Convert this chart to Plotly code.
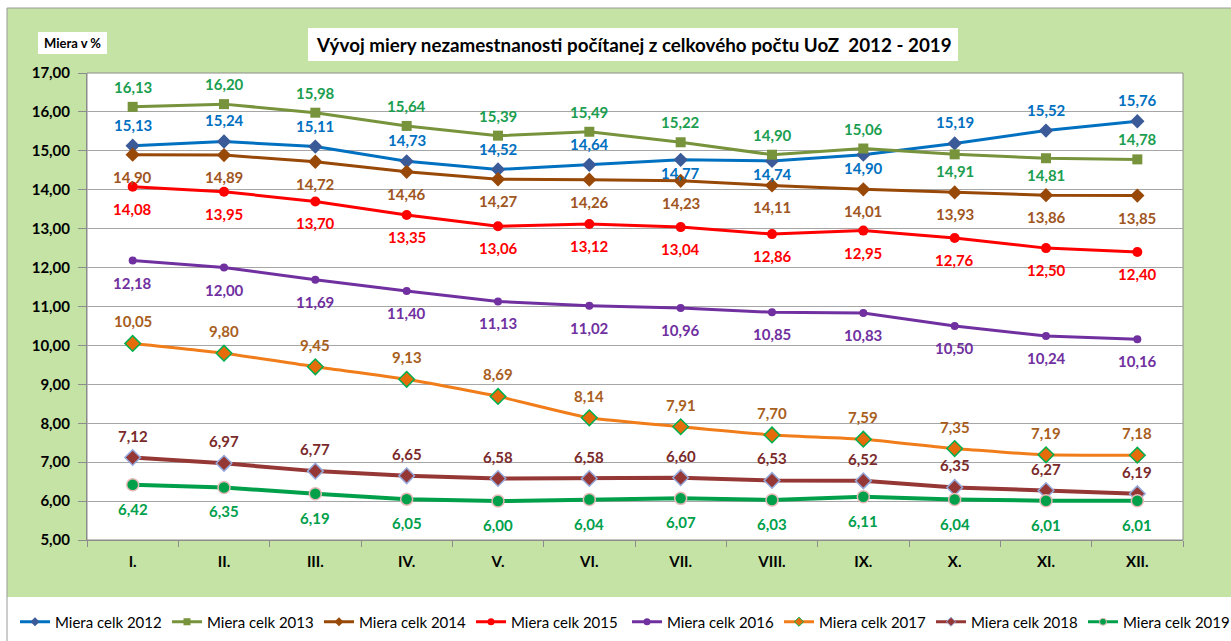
import plotly.graph_objects as go

months = ["I.", "II.", "III.", "IV.", "V.", "VI.", "VII.", "VIII.", "IX.", "X.", "XI.", "XII."]

miera_2012 = [15.13, 15.24, 15.11, 14.73, 14.52, 14.64, 14.77, 14.74, 14.90, 15.19, 15.52, 15.76]
miera_2013 = [16.13, 16.20, 15.98, 15.64, 15.39, 15.49, 15.22, 14.90, 15.06, 14.91, 14.81, 14.78]
miera_2014 = [14.90, 14.89, 14.72, 14.46, 14.27, 14.26, 14.23, 14.11, 14.01, 13.93, 13.86, 13.85]
miera_2015 = [14.08, 13.95, 13.70, 13.35, 13.06, 13.12, 13.04, 12.86, 12.95, 12.76, 12.50, 12.40]
miera_2016 = [12.18, 12.00, 11.69, 11.40, 11.13, 11.02, 10.96, 10.85, 10.83, 10.50, 10.24, 10.16]
miera_2017 = [10.05, 9.80, 9.45, 9.13, 8.69, 8.14, 7.91, 7.70, 7.59, 7.35, 7.19, 7.18]
miera_2018 = [7.12, 6.97, 6.77, 6.65, 6.58, 6.58, 6.60, 6.53, 6.52, 6.35, 6.27, 6.19]
miera_2019 = [6.42, 6.35, 6.19, 6.05, 6.00, 6.04, 6.07, 6.03, 6.11, 6.04, 6.01, 6.01]

# label placement: "t" above the point, "b" below
pos_2012 = ["t", "t", "t", "t", "t", "t", "b", "b", "b", "t", "t", "t"]
pos_2013 = ["t", "t", "t", "t", "t", "t", "t", "t", "t", "b", "b", "t"]

FONT = "Lato, 'Open Sans', Arial, sans-serif"

series = [
    dict(name="Miera celk 2012", y=miera_2012, line="#0070C0", lw=3, sym="diamond", ms=11,
         mfill="#3A5A98", mline="#3A5A98", mlw=0, tcol="#0070C0", pos=pos_2012, up=21, down=13, shape="linear", leg="legend"),
    dict(name="Miera celk 2013", y=miera_2013, line="#77933C", lw=3, sym="square", ms=10,
         mfill="#77933C", mline="#77933C", mlw=0, tcol="#1B9E4F", pos=pos_2013, up=20, down=17, shape="linear", leg="legend"),
    dict(name="Miera celk 2014", y=miera_2014, line="#984807", lw=3, sym="diamond", ms=11,
         mfill="#984807", mline="#984807", mlw=0, tcol="#A0561E", pos=["b"] * 12, up=22, down=22, shape="linear", leg="legend"),
    dict(name="Miera celk 2015", y=miera_2015, line="#FF0000", lw=3, sym="circle", ms=10,
         mfill="#FF0000", mline="#FF0000", mlw=0, tcol="#FF0000", pos=["b"] * 12, up=22, down=22, shape="linear", leg="legend"),
    dict(name="Miera celk 2016", y=miera_2016, line="#7030A0", lw=3, sym="circle", ms=8,
         mfill="#7030A0", mline="#7030A0", mlw=0, tcol="#7030A0", pos=["b"] * 12, up=22, down=22, shape="linear", leg="legend2"),
    dict(name="Miera celk 2017", y=miera_2017, line="#F07D1A", lw=3, sym="diamond", ms=12,
         mfill="#E46C0A", mline="#00B050", mlw=1.5, tcol="#A85E1C", pos=["t"] * 12, up=22, down=22, shape="spline", leg="legend2"),
    dict(name="Miera celk 2018", y=miera_2018, line="#953735", lw=4, sym="diamond", ms=12,
         mfill="#953735", mline="#95A9DB", mlw=1.5, tcol="#7A2A2A", pos=["t"] * 12, up=22, down=22, shape="linear", leg="legend2"),
    dict(name="Miera celk 2019", y=miera_2019, line="#00A04B", lw=4, sym="circle", ms=12,
         mfill="#00A04B", mline="#E6B9B8", mlw=1.5, tcol="#00A04B", pos=["b"] * 12, up=22, down=24, shape="linear", leg="legend2"),
]

fig = go.Figure()
annotations = []
for s in series:
    fig.add_trace(go.Scatter(
        x=months, y=s["y"], name=s["name"], mode="lines+markers", showlegend=False,
        line=dict(color=s["line"], width=s["lw"], shape=s["shape"], smoothing=0.5),
        marker=dict(symbol=s["sym"], size=s["ms"], color=s["mfill"],
                    line=dict(color=s["mline"], width=s["mlw"])),
        hoverinfo="skip",
    ))
    for m, v, p in zip(months, s["y"], s["pos"]):
        annotations.append(dict(
            x=m, y=v, xref="x", yref="y", showarrow=False,
            text=f"{v:.2f}".replace(".", ","),
            yshift=s["up"] if p == "t" else -s["down"],
            yanchor="middle", xanchor="center",
            font=dict(family=FONT, size=15, color=s["tcol"], weight="bold"),
        ))

# legend entries (smaller symbols, as in the original legend)
for s in series:
    fig.add_trace(go.Scatter(
        x=[None], y=[None], name=s["name"], mode="lines+markers", legend=s["leg"],
        line=dict(color=s["line"], width=3),
        marker=dict(symbol=s["sym"], size=7, color=s["mfill"],
                    line=dict(color=s["mline"], width=1 if s["mlw"] else 0)),
        hoverinfo="skip",
    ))

# Page geometry helpers (plot area: x 87..1183, y 73..540 px)
W, H = 1231, 641
L, R, T, B = 87, 1183, 73, 540
def px(x):
    return (x - L) / (R - L)
def py(y):
    return (B - y) / (B - T)

shapes = [
    # green chart background
    dict(type="rect", xref="paper", yref="paper", x0=px(7), x1=px(1240), y0=py(597), y1=py(8),
         fillcolor="#C4E3A4", line=dict(width=0), layer="below"),
    # outer border
    dict(type="rect", xref="paper", yref="paper", x0=px(7), x1=px(1240), y0=py(660), y1=py(8),
         fillcolor="rgba(0,0,0,0)", line=dict(color="#9A9A9A", width=1), layer="below"),
    # white plot area
    dict(type="rect", xref="paper", yref="paper", x0=0, x1=1, y0=0, y1=1,
         fillcolor="white", line=dict(color="#8C8C8C", width=1), layer="below"),
    # title box
    dict(type="rect", xref="paper", yref="paper", x0=px(308), x1=px(958), y0=py(61), y1=py(28),
         fillcolor="white", line=dict(width=0), layer="below"),
    # y label box
    dict(type="rect", xref="paper", yref="paper", x0=px(38), x1=px(107), y0=py(54), y1=py(32),
         fillcolor="white", line=dict(width=0), layer="below"),
]

annotations.append(dict(
    xref="paper", yref="paper", x=px(634), y=py(44.5), showarrow=False,
    xanchor="center", yanchor="middle",
    text="Vývoj miery nezamestnanosti počítanej z celkového počtu UoZ  2012 - 2019",
    font=dict(family=FONT, size=18.8, color="black", weight="bold"),
))
annotations.append(dict(
    xref="paper", yref="paper", x=px(72.5), y=py(43), showarrow=False,
    xanchor="center", yanchor="middle", text="Miera v %",
    font=dict(family=FONT, size=13, color="black", weight="bold"),
))

LEG_PITCH = 153
leg_common = dict(
    orientation="h", xref="container", yref="container",
    y=(H - 622) / H, xanchor="left", yanchor="middle",
    font=dict(family=FONT, size=15, color="black"),
    entrywidth=LEG_PITCH - 46, entrywidthmode="pixels", itemwidth=30,
    bgcolor="rgba(0,0,0,0)", traceorder="normal",
)

fig.update_layout(
    width=W, height=H,
    margin=dict(l=L, r=W - R, t=T, b=H - B, pad=0, autoexpand=False),
    paper_bgcolor="white",
    plot_bgcolor="rgba(0,0,0,0)",
    separators=", ",
    font=dict(family=FONT, color="black"),
    showlegend=True,
    legend=dict(x=15 / W, **leg_common),
    legend2=dict(x=(15 + 4 * LEG_PITCH) / W, **leg_common),
    shapes=shapes,
    annotations=annotations,
    xaxis=dict(
        type="category", range=[-0.5, 11.5], tickson="boundaries",
        ticks="outside", ticklen=6, tickcolor="#8C8C8C", automargin=False,
        showgrid=False, showline=True, linecolor="#8C8C8C", linewidth=1,
        tickfont=dict(family=FONT, size=15, color="black", weight="bold"),
        ticklabelstandoff=8, fixedrange=True,
    ),
    yaxis=dict(
        range=[5, 17], dtick=1, tick0=5, tickformat=".2f", automargin=False,
        ticks="outside", ticklen=8, tickcolor="#8C8C8C",
        showgrid=True, gridcolor="#A6A6A6", gridwidth=1,
        showline=True, linecolor="#8C8C8C", linewidth=1, zeroline=False,
        tickfont=dict(family=FONT, size=15, color="black", weight="bold"),
        ticklabelstandoff=5, fixedrange=True,
    ),
)

fig.write_html("out.html", config={"displayModeBar": False},
               post_script="document.body.style.margin='0';document.body.style.padding='0';")
